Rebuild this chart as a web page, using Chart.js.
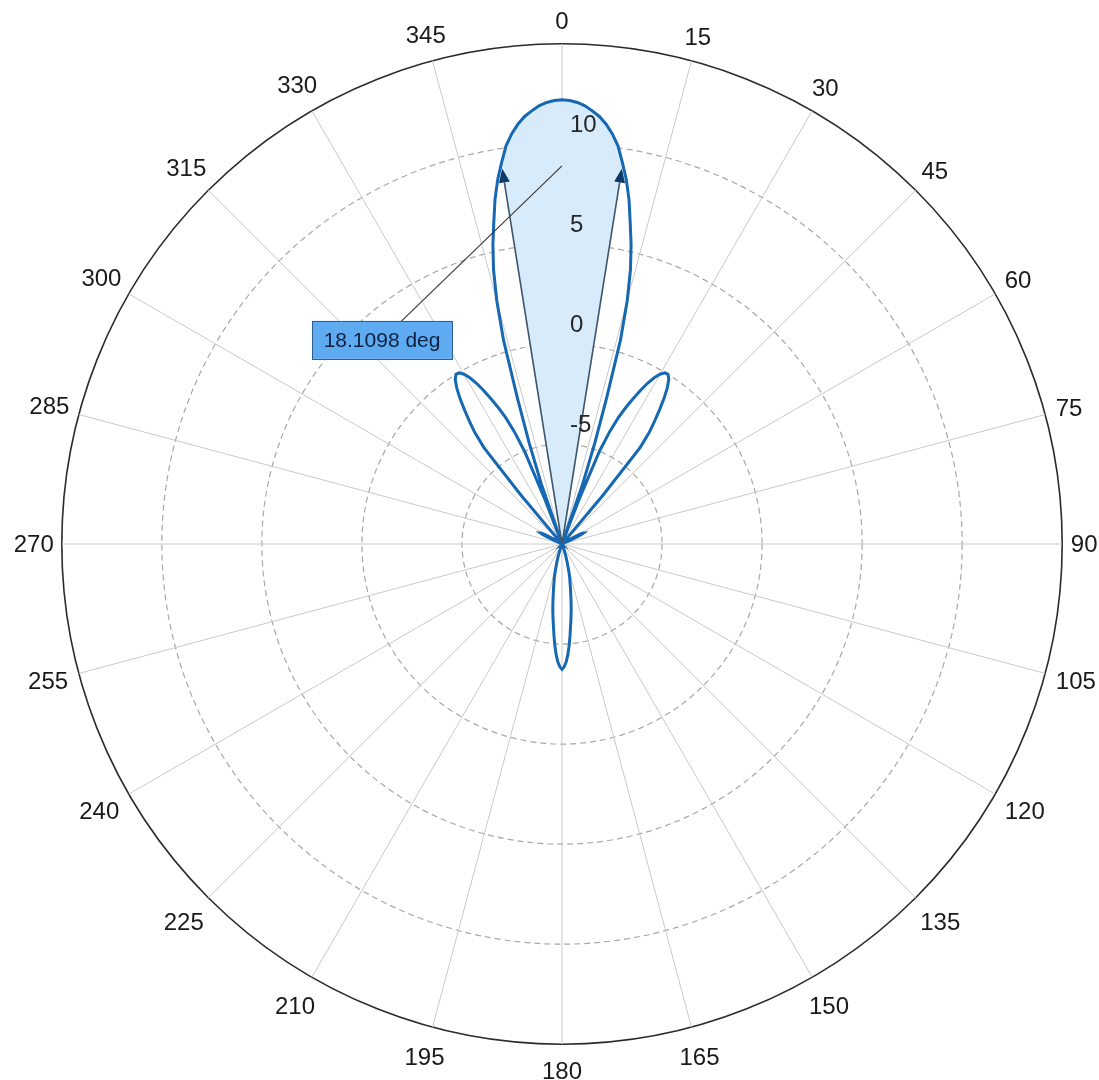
<!DOCTYPE html>
<html>
<head>
<meta charset="utf-8">
<script src="https://cdn.jsdelivr.net/npm/chart.js@4.4.1/dist/chart.umd.min.js"></script>
<style>
html, body { margin: 0; padding: 0; background: #ffffff; overflow: hidden; width: 1099px; height: 1080px; }
#wrap { position: absolute; left: 6px; top: 7px; width: 1099px; height: 1074px; }
</style>
</head>
<body>
<div id="wrap"><canvas id="c"></canvas></div>
<script>
// ---- scale definition (dB) ----
const FLOOR_DB = -10;
const MAX_DB = 15;
const STEP_DB = 5;
const ANGLE_LABEL_STEP = 15;           // degrees between labelled spokes
const radialTickValues = [-5, 0, 5, 10];
const radialTickLabels = ['-5', '0', '5', '10'];

// ---- pattern values (angle in degrees, gain in dB) ----
// angles not listed lie at or below the -10 dB floor (drawn at the centre)
const mainLobeAngles = [341, 342, 343, 344, 345, 346, 347, 348, 349, 350, 351, 352, 353, 354, 355, 356, 357, 358, 359,
                        0, 1, 2, 3, 4, 5, 6, 7, 8, 9, 10, 11, 12, 13, 14, 15, 16, 17, 18, 19];
const mainLobeGain   = [-6.8, -4.7, -2.4, 0.6, 2.6, 4.15, 5.35, 6.4, 7.55, 8.5, 9.3, 10.1, 10.65, 11.1, 11.45, 11.7, 11.93, 12.08, 12.17,
                        12.2, 12.17, 12.08, 11.93, 11.7, 11.45, 11.1, 10.65, 10.1, 9.3, 8.5, 7.55, 6.4, 5.35, 4.15, 2.6, 0.6, -2.4, -4.7, -6.8];

const rightSideLobeAngles = [21, 22, 23, 24, 25, 26, 27, 28, 29, 30, 31, 32, 33, 34, 35, 36, 37, 38, 39, 40];
const rightSideLobeGain   = [-7.5, -5.0, -3.9, -3.1, -2.5, -1.95, -1.4, -0.9, -0.5, -0.2, -0.02, 0.0, -0.2, -0.6, -1.1, -1.7, -2.3, -2.9, -3.8, -6.8];

const leftSideLobeAngles = [320, 321, 322, 323, 324, 325, 326, 327, 328, 329, 330, 331, 332, 333, 334, 335, 336, 337, 338, 339];
const leftSideLobeGain   = [-6.8, -3.8, -2.9, -2.3, -1.7, -1.1, -0.6, -0.2, 0.0, -0.02, -0.2, -0.5, -0.9, -1.4, -1.95, -2.5, -3.1, -3.9, -5.0, -7.5];

const rightMinorLobeAngles = [59, 60, 61, 62, 63, 64, 65, 66];
const rightMinorLobeGain   = [-9.7, -9.3, -9.0, -8.85, -8.8, -8.9, -9.2, -9.6];

const leftMinorLobeAngles = [294, 295, 296, 297, 298, 299, 300, 301];
const leftMinorLobeGain   = [-9.6, -9.2, -8.9, -8.8, -8.85, -9.0, -9.3, -9.7];

const backLobeAngles = [160, 161, 162, 163, 164, 165, 166, 167, 168, 169, 170, 171, 172, 173, 174, 175, 176, 177, 178, 179, 180,
                        181, 182, 183, 184, 185, 186, 187, 188, 189, 190, 191, 192, 193, 194, 195, 196, 197, 198, 199, 200];
const backLobeGain   = [-9.9, -9.7, -9.5, -9.3, -9.1, -8.9, -8.6, -8.3, -8.1, -7.8, -7.5, -7.1, -6.7, -6.3, -5.9, -5.4, -4.9, -4.45, -4.1, -3.86, -3.73,
                        -3.86, -4.1, -4.45, -4.9, -5.4, -5.9, -6.3, -6.7, -7.1, -7.5, -7.8, -8.1, -8.3, -8.6, -8.9, -9.1, -9.3, -9.5, -9.7, -9.9];

// half-power beamwidth annotation
const beamwidthDeg = 18.1098;
const beamwidthLevelDb = 9.0;
const beamwidthText = '18.1098 deg';
const connectorStartDb = 8.9;
const annotationAngleDeg = 318.6;
const annotationDb = 3.6;

// ---- build datasets from the arrays above ----
const angleCategories = [];
for (let a = 0; a < 360; a++) angleCategories.push(String(a));

const gain = angleCategories.map(() => FLOOR_DB);
[[mainLobeAngles, mainLobeGain], [rightSideLobeAngles, rightSideLobeGain], [leftSideLobeAngles, leftSideLobeGain],
 [rightMinorLobeAngles, rightMinorLobeGain], [leftMinorLobeAngles, leftMinorLobeGain], [backLobeAngles, backLobeGain]]
  .forEach(([angs, vals]) => angs.forEach((a, i) => { gain[a] = vals[i]; }));

const halfBw = beamwidthDeg / 2;
const beamFill = angleCategories.map((c, a) => {
  const off = a > 180 ? 360 - a : a;
  return off <= Math.floor(halfBw) ? gain[a] : FLOOR_DB;
});

const FONT = '"Liberation Sans", Arial, sans-serif';

const overlayPlugin = {
  id: 'overlay',
  afterDatasetsDraw(chart) {
    const ctx = chart.ctx;
    const r = chart.scales.r;
    const xc = r.xCenter, yc = r.yCenter;
    ctx.save();

    // beamwidth arrows
    const drawArrow = (x0, y0, x1, y1) => {
      const ang = Math.atan2(y1 - y0, x1 - x0);
      const L = 14, W = 5.5;
      const bx = x1 - L * Math.cos(ang), by = y1 - L * Math.sin(ang);
      ctx.strokeStyle = '#3d5670';
      ctx.lineWidth = 1.6;
      ctx.beginPath(); ctx.moveTo(x0, y0); ctx.lineTo(bx, by); ctx.stroke();
      ctx.fillStyle = '#0d3a68';
      ctx.beginPath();
      ctx.moveTo(x1, y1);
      ctx.lineTo(bx - W * Math.sin(ang), by + W * Math.cos(ang));
      ctx.lineTo(bx + W * Math.sin(ang), by - W * Math.cos(ang));
      ctx.closePath(); ctx.fill();
    };
    const dLevel = r.getDistanceFromCenterForValue(beamwidthLevelDb);
    const pR = r.getPointPosition(halfBw, dLevel);
    const pL = r.getPointPosition(360 - halfBw, dLevel);
    drawArrow(xc, yc, pR.x, pR.y);
    drawArrow(xc, yc, pL.x, pL.y);

    // annotation connector + box
    const pStart = r.getPointPosition(0, r.getDistanceFromCenterForValue(connectorStartDb));
    const pBox = r.getPointPosition(annotationAngleDeg, r.getDistanceFromCenterForValue(annotationDb));
    ctx.strokeStyle = '#3a3a3a';
    ctx.lineWidth = 1.2;
    ctx.beginPath(); ctx.moveTo(pStart.x, pStart.y); ctx.lineTo(pBox.x, pBox.y); ctx.stroke();
    const bw = 140, bh = 38;
    ctx.fillStyle = '#5eabf2';
    ctx.fillRect(pBox.x - bw / 2, pBox.y - bh / 2, bw, bh);
    ctx.strokeStyle = '#2f5f8f';
    ctx.lineWidth = 1;
    ctx.strokeRect(Math.round(pBox.x - bw / 2) + 0.5, Math.round(pBox.y - bh / 2) + 0.5, bw, bh);
    ctx.fillStyle = '#0f2140';
    ctx.font = '21px ' + FONT;
    ctx.textAlign = 'center';
    ctx.textBaseline = 'middle';
    ctx.fillText(beamwidthText, pBox.x, pBox.y + 1);

    // radial tick labels
    ctx.fillStyle = '#262626';
    ctx.font = '24px ' + FONT;
    ctx.textAlign = 'left';
    ctx.textBaseline = 'alphabetic';
    radialTickValues.forEach((v, i) => {
      const d = r.getDistanceFromCenterForValue(v);
      ctx.fillText(radialTickLabels[i], xc + 8, yc - d - 12);
    });

    // angle labels, centred on each labelled spoke just outside the rim
    ctx.fillStyle = '#1a1a1a';
    ctx.textAlign = 'center';
    ctx.textBaseline = 'middle';
    const rim = r.getDistanceFromCenterForValue(MAX_DB);
    angleCategories.forEach((lab, i) => {
      if (i % ANGLE_LABEL_STEP !== 0) return;
      const w = ctx.measureText(lab).width;
      const th = i * Math.PI / 180;
      const c = Math.cos(th);
      const vTerm = c >= 0 ? 12 : 17;
      const d = rim + 10 + Math.abs(Math.sin(th)) * w * 0.45 + Math.abs(c) * vTerm;
      const p = r.getPointPosition(i, d);
      ctx.fillText(lab, p.x, p.y + 1);
    });
    ctx.restore();
  }
};

new Chart(document.getElementById('c'), {
  type: 'radar',
  data: {
    labels: angleCategories,
    datasets: [
      {
        label: 'Pattern',
        data: gain,
        borderColor: '#1768b2',
        borderWidth: 3,
        pointRadius: 0,
        pointHoverRadius: 0,
        fill: false,
        tension: 0
      },
      {
        label: 'Beamwidth',
        data: beamFill,
        borderWidth: 0,
        borderColor: 'rgba(0,0,0,0)',
        backgroundColor: '#d8ebfa',
        pointRadius: 0,
        fill: 'start',
        tension: 0
      }
    ]
  },
  options: {
    responsive: true,
    maintainAspectRatio: false,
    animation: false,
    events: [],
    plugins: { legend: { display: false }, tooltip: { enabled: false } },
    scales: {
      r: {
        min: FLOOR_DB,
        max: MAX_DB,
        startAngle: 0,
        ticks: { display: false, stepSize: STEP_DB },
        grid: {
          circular: true,
          color: (c) => (c.tick && c.tick.value === MAX_DB) ? '#2b2b2b' : '#a8a8a8',
          lineWidth: (c) => (c.tick && c.tick.value === MAX_DB) ? 1.6 : 1.2
        },
        border: {
          dash: (c) => (c.tick && c.tick.value === MAX_DB) ? [] : [6, 4]
        },
        angleLines: {
          display: true,
          color: (c) => (c.index % ANGLE_LABEL_STEP === 0) ? '#c9c9c9' : 'rgba(0,0,0,0)',
          lineWidth: (c) => (c.index % ANGLE_LABEL_STEP === 0) ? 1 : 0
        },
        pointLabels: {
          display: true,
          padding: 8,
          color: 'rgba(0,0,0,0)',
          font: { family: FONT, size: 24 },
          callback: (label, index) => (index % ANGLE_LABEL_STEP === 0) ? label : ''
        }
      }
    }
  },
  plugins: [overlayPlugin]
});
</script>
</body>
</html>
